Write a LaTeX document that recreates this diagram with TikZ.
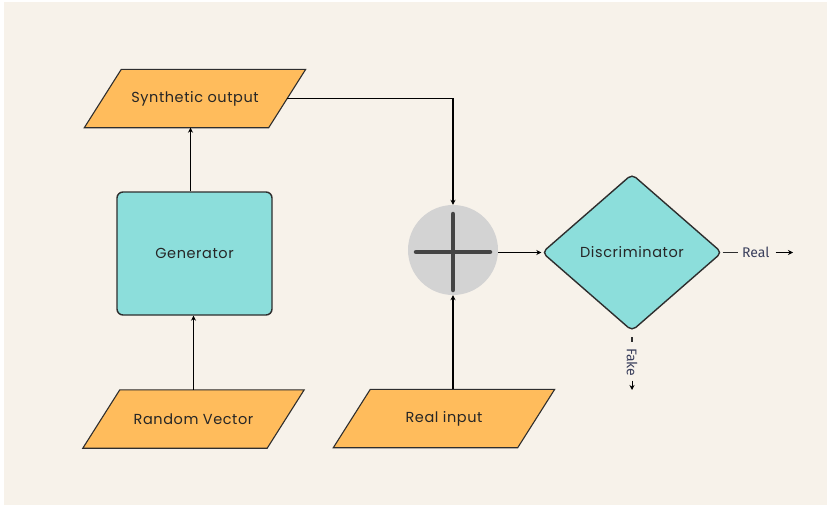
\documentclass[tikz,border=0pt]{standalone}
\usepackage{fontspec}
\setmainfont{Poppins}[LetterSpace=4]
\newfontfamily\labelfont{Fira Sans}
\usetikzlibrary{arrows.meta,shapes.geometric,calc}
\pgfdeclarelayer{bgzero}
\pgfdeclarelayer{shapes}
\pgfsetlayers{bgzero,shapes,main}
\definecolor{bgcream}{HTML}{F7F2EA}
\definecolor{orangefill}{HTML}{FFBC5C}
\definecolor{tealfill}{HTML}{8CDEDB}
\definecolor{outline}{HTML}{2E2E2E}
\definecolor{circfill}{HTML}{D3D3D3}
\definecolor{plusgray}{HTML}{444444}
\definecolor{labelblue}{HTML}{3A3F5C}
\tikzset{
  x=1pt, y=-1pt,
  txt/.style={font=\fontsize{14.5}{17}\selectfont, text=black!85},
  parabox/.style={txt, minimum width=184pt, minimum height=58pt, inner sep=0pt},
  genbox/.style={txt, draw=outline, line width=1.4pt, fill=tealfill, rounded corners=6pt,
     minimum width=155pt, minimum height=123pt},
  conn/.style={draw=black, line width=1.3pt, -{Stealth[length=5pt,width=5pt]}},
  lbl/.style={inner sep=0pt, text=labelblue, font=\labelfont\fontsize{14}{16}\selectfont}
}
\newcommand{\paradraw}[1]{%
  \begin{pgfonlayer}{shapes}
  \draw[fill=orangefill, draw=outline, line width=1.1pt]
    ($(#1.north west)+(18.5,0)$) -- ($(#1.north east)+(18.5,0)$) --
    ($(#1.south east)+(-18.5,0)$) -- ($(#1.south west)+(-18.5,0)$) -- cycle;
  \end{pgfonlayer}}
\begin{document}
\begin{tikzpicture}
\begin{pgfonlayer}{bgzero}
\fill[white] (0,0) rectangle (827,506);
\fill[bgcream] (4,2) rectangle (827,505);
\end{pgfonlayer}
\useasboundingbox (0,0) rectangle (827,506);

% parallelograms
\node[parabox] (syn) at (195,98.5) {Synthetic output};
\paradraw{syn}
\node[parabox] (rv) at (193.5,419) {Random Vector};
\paradraw{rv}
\node[parabox] (ri) at (444,418.5) {Real input};
\paradraw{ri}

% generator
\node[genbox] (gen) at (194.5,253.5) {Generator};

% combiner circle
\node[circle, fill=circfill, minimum size=90pt, inner sep=0pt] (circ) at (453,250) {};
\draw[plusgray, line width=4.5pt, line cap=round] ($(circ.center)+(-37,2)$) -- ($(circ.center)+(37,2)$);
\draw[plusgray, line width=4.5pt, line cap=round] ($(circ.center)+(0,-36)$) -- ($(circ.center)+(0,40)$);

% discriminator
\node[diamond, txt, draw=outline, line width=1.4pt, fill=tealfill, rounded corners=5pt,
  minimum width=180pt, minimum height=157pt, inner sep=0pt, aspect=1.15] (disc) at (632,252.5) {Discriminator};

% connectors
\draw[conn] ([xshift=-4pt]gen.north) -- ([xshift=-4pt]gen.north |- syn.south);
\draw[conn] (rv.north) -- (rv.north |- gen.south);
\draw[conn] (syn.east) -| (circ.north);
\draw[conn] (circ.south |- ri.north) -- (circ.south);
\draw[conn] (circ.east |- disc.west) -- (disc.west);

% outputs
\coordinate (realend) at (738,252.5);
\draw[line width=1.2pt, outline] (disc.east) -- (realend);
\node[lbl, anchor=west] (reallbl) at (742,252.5) {Real};
\coordinate (realarrow) at (793,252.5);
\draw[conn, line width=1.5pt] ($(reallbl.east)+(6,0)$) -- (realarrow);

\coordinate (fakestart) at (632,337);
\draw[line width=1.2pt, outline] (fakestart) -- ++(0,5);
\node[lbl, rotate=-90, anchor=west] (fakelbl) at (632,348) {Fake};
\coordinate (fakearrow) at (632,390);
\draw[conn, line width=1pt] ($(fakelbl.east)+(0,4)$) -- (fakearrow);
\end{tikzpicture}
\end{document}
